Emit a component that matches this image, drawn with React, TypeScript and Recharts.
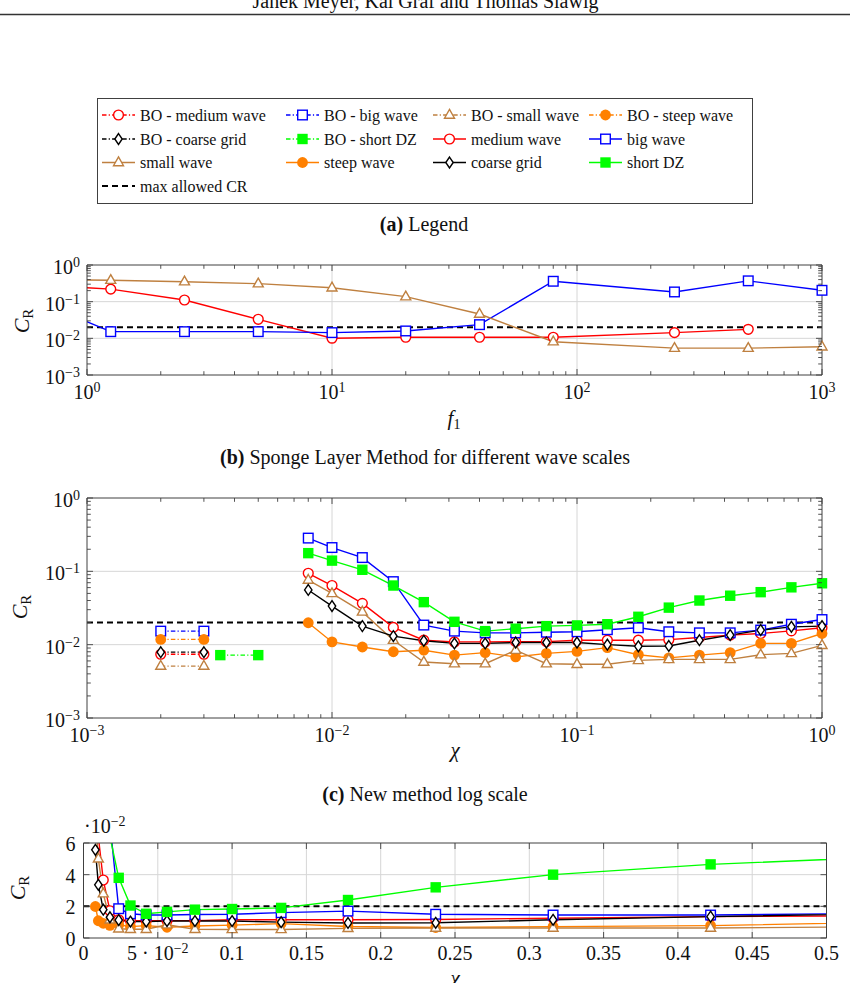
import React from 'react';
import { LineChart, Line, XAxis, YAxis, CartesianGrid } from 'recharts';

const SERIF = '"Liberation Serif", "DejaVu Serif", serif';
const FRAME = '#404040';
const GRID = '#d6d6d6';
const TEXT = '#111111';

const RED = '#ff0000';
const BLUE = '#0000ff';
const BROWN = '#bf8040';
const ORANGE = '#ff8000';
const BLACK = '#000000';
const GREEN = '#00ff00';

// ---------- (b) Sponge Layer Method ----------
const f1Values = [0.625, 1.25, 2.5, 5, 10, 20, 40, 80, 250, 500, 1000];
const spongeMediumWave = [0.29, 0.22, 0.111, 0.033, 0.0101, 0.0107, 0.0107, 0.0107, 0.0143, 0.0176, null];
const spongeBigWave = [0.107, 0.0152, 0.0152, 0.0152, 0.0143, 0.0159, 0.0236, 0.36, 0.184, 0.37, 0.204];
const spongeSmallWave = [0.4, 0.385, 0.35, 0.31, 0.24, 0.137, 0.046, 0.0081, 0.0054, 0.0054, 0.0059];

// ---------- (c)/(d) New method ----------
const chiValues = [0.008, 0.01, 0.0133, 0.0178, 0.0237, 0.0316, 0.0422, 0.0562, 0.075, 0.1, 0.133, 0.178, 0.237, 0.316, 0.422, 0.562, 0.75, 1.0];
const mediumWave = [0.094, 0.064, 0.0366, 0.0172, 0.0115, 0.0109, 0.0109, 0.011, 0.011, 0.0115, 0.0115, 0.0115, 0.0117, 0.0125, 0.0135, 0.0142, 0.0154, 0.017];
const bigWave = [0.284, 0.211, 0.154, 0.0724, 0.0185, 0.0153, 0.0145, 0.0145, 0.0148, 0.015, 0.016, 0.017, 0.015, 0.0145, 0.0145, 0.0158, 0.019, 0.022];
const smallWave = [0.076, 0.05, 0.028, 0.0115, 0.0058, 0.0055, 0.0055, 0.0084, 0.0055, 0.0054, 0.0054, 0.0061, 0.0063, 0.0063, 0.0063, 0.0073, 0.0076, 0.0098];
const steepWave = [0.0199, 0.0109, 0.0093, 0.008, 0.0084, 0.0072, 0.0078, 0.0068, 0.0076, 0.0081, 0.0091, 0.0073, 0.0066, 0.0072, 0.0078, 0.0104, 0.0104, 0.0142];
const coarseGrid = [0.0557, 0.0336, 0.0179, 0.0131, 0.0113, 0.0104, 0.0104, 0.0107, 0.0107, 0.0107, 0.01, 0.0095, 0.0096, 0.0115, 0.0135, 0.0158, 0.0175, 0.0179];
const shortDZ = [0.177, 0.14, 0.105, 0.064, 0.038, 0.0205, 0.0153, 0.0165, 0.0179, 0.0183, 0.019, 0.024, 0.032, 0.04, 0.0465, 0.052, 0.0605, 0.0687];

const boChi = [0.002, 0.003];
const boMediumWave = [0.0074, 0.0074];
const boBigWave = [0.0153, 0.0153];
const boSmallWave = [0.0051, 0.0051];
const boSteepWave = [0.0118, 0.0118];
const boCoarseGrid = [0.0079, 0.0079];
const boShortChi = [0.0035, 0.005];
const boShortDZ = [0.0072, 0.0072];

const maxAllowedCR = 0.02;

// ---------- tick values ----------
const f1Decades = [1, 10, 100, 1000];
const crDecades = [0.001, 0.01, 0.1, 1];
const chiDecades = [0.001, 0.01, 0.1, 1];
const chiLinearTicks = [0, 0.05, 0.1, 0.15, 0.2, 0.25, 0.3, 0.35, 0.4, 0.45, 0.5];
const crLinearTicks = [0, 0.02, 0.04, 0.06];

type Shape = 'circle' | 'square' | 'triangle' | 'dot' | 'diamond' | 'fsquare' | null;
type Pt = { x: number; y: number };

const withMinors = (decades: number[]) => {
  const out: number[] = [];
  decades.forEach((d, i) => {
    out.push(d);
    if (i < decades.length - 1) for (let m = 2; m <= 9; m++) out.push(+(d * m).toPrecision(6));
  });
  return out;
};

const pts = (xs: number[], ys: (number | null)[]): Pt[] =>
  xs.flatMap((x, i) => (ys[i] == null ? [] : [{ x, y: ys[i] as number }]));

const inDomain = (p: Pt[], xd: number[], yd: number[]) =>
  p.filter((q) => q.x >= xd[0] && q.x <= xd[1] && q.y >= yd[0] && q.y <= yd[1]);

function marker(shape: Shape, color: string, cx: number, cy: number) {
  const sw = 1.4;
  switch (shape) {
    case 'circle':
      return <circle cx={cx} cy={cy} r={4.9} fill="#fff" stroke={color} strokeWidth={sw} />;
    case 'square':
      return <rect x={cx - 4.8} y={cy - 4.8} width={9.6} height={9.6} fill="#fff" stroke={color} strokeWidth={sw} />;
    case 'triangle':
      return <polygon points={`${cx},${cy - 5.6} ${cx + 5},${cy + 3.2} ${cx - 5},${cy + 3.2}`} fill="#fff" stroke={color} strokeWidth={sw} />;
    case 'dot':
      return <circle cx={cx} cy={cy} r={5.4} fill={color} />;
    case 'diamond':
      return <polygon points={`${cx},${cy - 5.4} ${cx + 3.7},${cy} ${cx},${cy + 5.4} ${cx - 3.7},${cy}`} fill="#fff" stroke={color} strokeWidth={sw} />;
    case 'fsquare':
      return <rect x={cx - 5.2} y={cy - 5.2} width={10.4} height={10.4} fill={color} />;
    default:
      return null;
  }
}

const dotFn = (shape: Shape, color: string) => (p: any) => {
  const { cx, cy, index } = p;
  if (cx == null || cy == null) return <g key={`d${index}`} />;
  return <g key={`d${index}`}>{marker(shape, color, cx, cy)}</g>;
};

type Side = 'bottom' | 'top' | 'left' | 'right';
interface AxisCfg {
  scale: 'log' | 'linear';
  domain: [number, number];
  ticks: number[];
  grid: number[];
  major: (v: number) => boolean;
  label: (v: number, side: Side, x: number, y: number) => React.ReactNode;
}

const isIn = (list: number[]) => (v: number) => list.some((d) => Math.abs(d - v) <= Math.abs(d) * 1e-6 + 1e-12);

const supExp = (e: number) => (e < 0 ? `\u2212${-e}` : `${e}`);

const powLabel = (v: number, side: Side, x: number, y: number) => {
  const e = Math.round(Math.log10(v));
  const bottom = side === 'bottom';
  return (
    <text x={bottom ? x : x - 7} y={bottom ? y + 24 : y + 9} textAnchor={bottom ? 'middle' : 'end'} fontFamily={SERIF} fontSize={20} fill={TEXT}>
      10<tspan dy={-7} fontSize={14}>{supExp(e)}</tspan>
    </text>
  );
};

const linXLabel = (v: number, side: Side, x: number, y: number) => {
  if (v !== 0 && v < 0.1) {
    const e = Math.floor(Math.log10(v) + 1e-9);
    const m = Math.round(v / Math.pow(10, e));
    return (
      <text x={x} y={y + 22} textAnchor="middle" fontFamily={SERIF} fontSize={20} fill={TEXT}>
        {`${m} \u00b7 10`}<tspan dy={-7} fontSize={14}>{supExp(e)}</tspan>
      </text>
    );
  }
  return (
    <text x={x} y={y + 22} textAnchor="middle" fontFamily={SERIF} fontSize={20} fill={TEXT}>
      {String(v)}
    </text>
  );
};

const linYLabel = (v: number, side: Side, x: number, y: number) => (
  <text x={x - 8} y={y + 8} textAnchor="end" fontFamily={SERIF} fontSize={20} fill={TEXT}>
    {String(Math.round(v * 100))}
  </text>
);

const mkTick = (side: Side, cfg: AxisCfg) => (p: any) => {
  const { x, y, payload } = p;
  const v = payload.value as number;
  const major = cfg.major(v);
  const L = major ? 6 : 3.8;
  let c: number[];
  if (side === 'bottom') c = [x, y, x, y - L];
  else if (side === 'top') c = [x, y, x, y + L];
  else if (side === 'left') c = [x, y, x + L, y];
  else c = [x, y, x - L, y];
  const lab = major && (side === 'bottom' || side === 'left') ? cfg.label(v, side, x, y) : null;
  return (
    <g>
      <line x1={c[0]} y1={c[1]} x2={c[2]} y2={c[3]} stroke={FRAME} strokeWidth={0.9} />
      {lab}
    </g>
  );
};

interface SeriesDef {
  key: string;
  data: Pt[];
  color: string;
  shape: Shape;
  dash?: string;
  width?: number;
}

interface PlotProps {
  width: number;
  height: number;
  // plot-area insets (distance from svg edges to the plot frame)
  inset: { top: number; right: number; bottom: number; left: number };
  x: AxisCfg;
  y: AxisCfg;
  series: SeriesDef[];
  clipX: boolean;
  clipY: boolean;
}

function Plot({ width, height, inset, x, y, series, clipX, clipY }: PlotProps) {
  const axisLine = { stroke: FRAME, strokeWidth: 1 };
  const common = { interval: 0 as const, tickSize: 0, tickMargin: 0, tickLine: false, axisLine };
  const margin = { top: inset.top - 1, right: inset.right - 1, bottom: inset.bottom - 1, left: inset.left - 1 };
  return (
    <LineChart width={width} height={height} margin={margin}>
      <CartesianGrid xAxisId="x" yAxisId="y" stroke={GRID} strokeWidth={1} horizontalValues={y.grid} verticalValues={x.grid} />
      <XAxis xAxisId="x" dataKey="x" type="number" scale={x.scale} domain={x.domain} allowDataOverflow={clipX} ticks={x.ticks} height={1} tick={mkTick('bottom', x)} {...common} />
      <XAxis xAxisId="xt" orientation="top" dataKey="x" type="number" scale={x.scale} domain={x.domain} ticks={x.ticks} height={1} tick={mkTick('top', x)} {...common} />
      <YAxis yAxisId="y" type="number" scale={y.scale} domain={y.domain} allowDataOverflow={clipY} ticks={y.ticks} width={1} tick={mkTick('left', y)} {...common} />
      <YAxis yAxisId="yr" orientation="right" type="number" scale={y.scale} domain={y.domain} ticks={y.ticks} width={1} tick={mkTick('right', y)} {...common} />
      {series.flatMap((s) => {
        const out = [
          <Line
            key={`${s.key}-l`}
            xAxisId="x"
            yAxisId="y"
            type="linear"
            data={s.data}
            dataKey="y"
            stroke={s.color}
            strokeWidth={s.width ?? 1.4}
            strokeDasharray={s.dash}
            dot={false}
            activeDot={false}
            isAnimationActive={false}
          />,
        ];
        if (s.shape) {
          out.push(
            <Line
              key={`${s.key}-m`}
              xAxisId="xt"
              yAxisId="yr"
              type="linear"
              data={inDomain(s.data, x.domain, y.domain)}
              dataKey="y"
              stroke="none"
              dot={dotFn(s.shape, s.color)}
              activeDot={false}
              isAnimationActive={false}
            />
          );
        }
        return out;
      })}
    </LineChart>
  );
}

const DASHDOT = '4.5 2.2 1.2 2.2';
const MAXDASH = '6 4';

// ---- axis configs ----
const f1Axis: AxisCfg = { scale: 'log', domain: [1, 1000], ticks: withMinors(f1Decades), grid: [10, 100], major: isIn(f1Decades), label: powLabel };
const crAxis: AxisCfg = { scale: 'log', domain: [0.001, 1], ticks: withMinors(crDecades), grid: [0.01, 0.1], major: isIn(crDecades), label: powLabel };
const chiAxis: AxisCfg = { scale: 'log', domain: [0.001, 1], ticks: withMinors(chiDecades), grid: [0.01, 0.1], major: isIn(chiDecades), label: powLabel };
const chiLinAxis: AxisCfg = { scale: 'linear', domain: [0, 0.5], ticks: chiLinearTicks, grid: chiLinearTicks.slice(1, -1), major: () => true, label: linXLabel };
const crLinAxis: AxisCfg = { scale: 'linear', domain: [0, 0.06], ticks: crLinearTicks, grid: crLinearTicks.slice(1, -1), major: () => true, label: linYLabel };

const spongeSeries: SeriesDef[] = [
  { key: 'max', data: pts([f1Axis.domain[0], f1Axis.domain[1]], [maxAllowedCR, maxAllowedCR]), color: BLACK, shape: null, dash: MAXDASH, width: 2 },
  { key: 'medium', data: pts(f1Values, spongeMediumWave), color: RED, shape: 'circle' },
  { key: 'big', data: pts(f1Values, spongeBigWave), color: BLUE, shape: 'square' },
  { key: 'small', data: pts(f1Values, spongeSmallWave), color: BROWN, shape: 'triangle' },
];

const mainSeries = (xd: [number, number]): SeriesDef[] => [
  { key: 'max', data: pts([xd[0], xd[1]], [maxAllowedCR, maxAllowedCR]), color: BLACK, shape: null, dash: MAXDASH, width: 2 },
  { key: 'medium', data: pts(chiValues, mediumWave), color: RED, shape: 'circle' },
  { key: 'big', data: pts(chiValues, bigWave), color: BLUE, shape: 'square' },
  { key: 'steep', data: pts(chiValues, steepWave), color: ORANGE, shape: 'dot' },
  { key: 'small', data: pts(chiValues, smallWave), color: BROWN, shape: 'triangle' },
  { key: 'coarse', data: pts(chiValues, coarseGrid), color: BLACK, shape: 'diamond' },
  { key: 'short', data: pts(chiValues, shortDZ), color: GREEN, shape: 'fsquare' },
];

const boSeries: SeriesDef[] = [
  { key: 'bo-medium', data: pts(boChi, boMediumWave), color: RED, shape: 'circle', dash: DASHDOT },
  { key: 'bo-big', data: pts(boChi, boBigWave), color: BLUE, shape: 'square', dash: DASHDOT },
  { key: 'bo-small', data: pts(boChi, boSmallWave), color: BROWN, shape: 'triangle', dash: DASHDOT },
  { key: 'bo-steep', data: pts(boChi, boSteepWave), color: ORANGE, shape: 'dot', dash: DASHDOT },
  { key: 'bo-coarse', data: pts(boChi, boCoarseGrid), color: BLACK, shape: 'diamond', dash: DASHDOT },
  { key: 'bo-short', data: pts(boShortChi, boShortDZ), color: GREEN, shape: 'fsquare', dash: DASHDOT },
];

// ---- legend ----
interface LegendItem { label: string; color: string; shape: Shape; dash?: string; width?: number }
const legendRows: LegendItem[][] = [
  [
    { label: 'BO - medium wave', color: RED, shape: 'circle', dash: DASHDOT },
    { label: 'BO - big wave', color: BLUE, shape: 'square', dash: DASHDOT },
    { label: 'BO - small wave', color: BROWN, shape: 'triangle', dash: DASHDOT },
    { label: 'BO - steep wave', color: ORANGE, shape: 'dot', dash: DASHDOT },
  ],
  [
    { label: 'BO - coarse grid', color: BLACK, shape: 'diamond', dash: DASHDOT },
    { label: 'BO - short DZ', color: GREEN, shape: 'fsquare', dash: DASHDOT },
    { label: 'medium wave', color: RED, shape: 'circle' },
    { label: 'big wave', color: BLUE, shape: 'square' },
  ],
  [
    { label: 'small wave', color: BROWN, shape: 'triangle' },
    { label: 'steep wave', color: ORANGE, shape: 'dot' },
    { label: 'coarse grid', color: BLACK, shape: 'diamond' },
    { label: 'short DZ', color: GREEN, shape: 'fsquare' },
  ],
  [{ label: 'max allowed CR', color: BLACK, shape: null, dash: MAXDASH, width: 2 }],
];
const legendColX = [102, 286, 433, 589];
const legendRowY = [115, 139, 162.5, 186];

// rotated C_R label; (cx, cy) is the visual centre
function CR({ cx, cy }: { cx: number; cy: number }) {
  const bx = cx + 7;
  return (
    <text x={bx} y={cy} transform={`rotate(-90 ${bx} ${cy})`} textAnchor="middle" fontFamily={SERIF} fill={TEXT}>
      <tspan fontSize={22} fontStyle="italic">C</tspan>
      <tspan fontSize={15} dy={4}>R</tspan>
    </text>
  );
}

function Overlay() {
  return (
    <svg width={850} height={983} style={{ position: 'absolute', left: 0, top: 0, pointerEvents: 'none' }}>
      <text x={425.5} y={8} textAnchor="middle" fontFamily={SERIF} fontSize={20} fill={TEXT}>
        Janek Meyer, Kai Graf and Thomas Slawig
      </text>
      <line x1={0} y1={14.5} x2={850} y2={14.5} stroke="#333" strokeWidth={1.6} />

      <rect x={97.5} y={98.5} width={655} height={105} fill="#fff" stroke={FRAME} strokeWidth={1} />
      {legendRows.map((row, r) =>
        row.map((it, c) => {
          const x0 = legendColX[c];
          const y0 = legendRowY[r];
          return (
            <g key={`lg-${r}-${c}`}>
              <line x1={x0} y1={y0} x2={x0 + 33} y2={y0} stroke={it.color} strokeWidth={it.width ?? 1.4} strokeDasharray={it.dash} />
              {marker(it.shape, it.color, x0 + 16.5, y0)}
              <text x={x0 + 38} y={y0 + 5.5} fontFamily={SERIF} fontSize={16} fill={TEXT}>
                {it.label}
              </text>
            </g>
          );
        })
      )}

      <text x={424} y={231} textAnchor="middle" fontFamily={SERIF} fontSize={20} fill={TEXT}>
        <tspan fontWeight="bold">(a)</tspan>
        {' Legend'}
      </text>

      <CR cx={22} cy={321} />
      <text x={454} y={425} textAnchor="middle" fontFamily={SERIF} fill={TEXT}>
        <tspan fontSize={21} fontStyle="italic">f</tspan>
        <tspan fontSize={14} dy={4}>1</tspan>
      </text>
      <text x={425} y={464} textAnchor="middle" fontFamily={SERIF} fontSize={20} fill={TEXT}>
        <tspan fontWeight="bold">(b)</tspan>
        {' Sponge Layer Method for different wave scales'}
      </text>

      <CR cx={20} cy={607} />
      <text x={455} y={757} textAnchor="middle" fontFamily={SERIF} fontSize={21} fontStyle="italic" fill={TEXT}>
        χ
      </text>
      <text x={425} y={801} textAnchor="middle" fontFamily={SERIF} fontSize={20} fill={TEXT}>
        <tspan fontWeight="bold">(c)</tspan>
        {' New method log scale'}
      </text>

      <text x={84} y={833} fontFamily={SERIF} fontSize={20} fill={TEXT}>
        {'\u00b710'}
        <tspan dy={-7} fontSize={14}>{'\u22122'}</tspan>
      </text>
      <CR cx={18} cy={888} />
      <text x={455} y={985} textAnchor="middle" fontFamily={SERIF} fontSize={21} fontStyle="italic" fill={TEXT}>
        χ
      </text>
    </svg>
  );
}

export default function App() {
  return (
    <div style={{ position: 'absolute', left: 0, top: 0, width: 850, height: 983, background: '#fff', overflow: 'hidden' }}>
      <Overlay />
      <div style={{ position: 'absolute', left: 0, top: 240 }}>
        <Plot width={850} height={180} inset={{ top: 25, right: 28, bottom: 45, left: 87 }} x={f1Axis} y={crAxis} series={spongeSeries} clipX={true} clipY={false} />
      </div>
      <div style={{ position: 'absolute', left: 0, top: 470 }}>
        <Plot width={850} height={290} inset={{ top: 28, right: 28, bottom: 42, left: 87 }} x={chiAxis} y={crAxis} series={[...boSeries, ...mainSeries(chiAxis.domain)]} clipX={false} clipY={false} />
      </div>
      <div style={{ position: 'absolute', left: 0, top: 805 }}>
        <Plot width={850} height={178} inset={{ top: 38, right: 23.5, bottom: 45, left: 83.5 }} x={chiLinAxis} y={crLinAxis} series={mainSeries(chiLinAxis.domain)} clipX={true} clipY={true} />
      </div>
    </div>
  );
}
